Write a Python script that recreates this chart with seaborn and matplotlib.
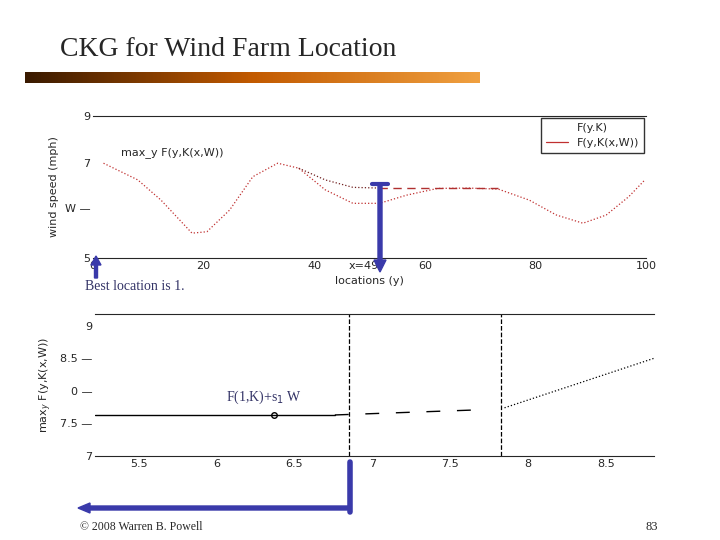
import matplotlib.pyplot as plt
import matplotlib.patches as mpatches
from matplotlib.lines import Line2D
import numpy as np
import seaborn as sns

sns.set_style("white")
plt.rcParams['font.family'] = ['DejaVu Sans']

# top panel: wind speed along locations
loc = [1.9, 8.1, 12.3, 17.9, 20.6, 24.7, 28.9, 33.4, 37.2, 42.0, 47.0, 51.8, 56.7, 62.3, 67.9, 73.3, 78.9, 83.8, 88.6, 92.8, 96.9, 99.8]
f_kw = [7.67, 7.20, 6.63, 5.70, 5.74, 6.35, 7.29, 7.67, 7.53, 6.92, 6.54, 6.54, 6.77, 6.96, 6.97, 6.94, 6.63, 6.21, 5.98, 6.21, 6.73, 7.20]
up_loc = [37.2, 42.0, 47.0, 51.8]
up_val = [7.53, 7.20, 6.99, 6.97]
flat_loc = [51.8, 73.3]
flat_val = [6.97, 6.97]

# bottom panel: max_y F(y,K(x,W)) vs W
solid_x = [5.22, 6.76]
solid_y = [7.63, 7.63]
dash_x = [6.76, 7.70]
dash_y = [7.63, 7.71]
dot_x = [7.85, 8.81]
dot_y = [7.74, 8.5]
vlines = [6.85, 7.83]
opt_pt = (6.37, 7.63)

W, H = 720, 540
fig = plt.figure(figsize=(7.2, 5.4), dpi=100)

def box(l, t, r, b):
    return [l / W, 1 - b / H, (r - l) / W, (b - t) / H]

# slide title and bar
fig.text(60 / W, 1 - 50 / H, "CKG for Wind Farm Location", family="Liberation Serif", fontsize=20, va="center")
bar = fig.add_axes(box(25, 72, 480, 83))
bar.imshow(np.linspace(0, 1, 200)[None, :], aspect="auto",
           cmap=sns.blend_palette(["#3a1a00", "#c25a00", "#f0a040"], as_cmap=True))
bar.set_axis_off()

ax1 = fig.add_axes(box(93, 116, 646, 258))
sns.lineplot(x=loc, y=f_kw, ax=ax1, color="#c03030", lw=0.9, linestyle=":")
sns.lineplot(x=up_loc, y=up_val, ax=ax1, color="#702020", lw=0.9, linestyle=":")
ax1.plot(flat_loc, flat_val, color="#b03030", lw=1.0, dashes=(6, 4))
handles = [Line2D([], [], color="white"), Line2D([], [], color="#c03030", lw=0.9)]
ax1.legend(handles, ["F(y.K)", "F(y,K(x,W))"], loc="upper right", fontsize=8, frameon=True,
           fancybox=False, edgecolor="black", borderaxespad=0.2)
ax1.set_xlim(0, 100)
ax1.set_ylim(5, 9)
ax1.set_xticks([0, 20, 40, 49, 60, 80, 100])
ax1.set_xticklabels(["0", "20", "40", "x=49", "60", "80", "100"], fontsize=8)
ax1.set_yticks([5, 6.41, 7.67, 9])
ax1.set_yticklabels(["5", "W —", "7", "9"], fontsize=8)
ax1.tick_params(length=0, pad=2)
ax1.set_xlabel("locations (y)", fontsize=8)
ax1.set_ylabel("wind speed (mph)", fontsize=8)
for s in ["left", "right"]:
    ax1.spines[s].set_visible(False)
ax1.text(5, 7.9, "max_y F(y,K(x,W))", fontsize=8)

ax2 = fig.add_axes(box(95, 314, 654, 456))
sns.lineplot(x=solid_x, y=solid_y, ax=ax2, color="black", lw=1)
ax2.plot(dash_x, dash_y, color="black", lw=1, dashes=(10, 12))
sns.lineplot(x=dot_x, y=dot_y, ax=ax2, color="black", lw=0.9, linestyle=":")
for v in vlines:
    ax2.axvline(v, color="black", ls="--", lw=0.9)
ax2.plot(*opt_pt, marker="o", mfc="none", mec="black", ms=4)
ax2.set_xlim(5.22, 8.81)
ax2.set_ylim(7, 9.18)
ax2.set_xticks([5.5, 6, 6.5, 7, 7.5, 8, 8.5])
ax2.set_xticklabels(["5.5", "6", "6.5", "7", "7.5", "8", "8.5"], fontsize=8)
ax2.set_yticks([7, 7.5, 8, 8.5, 9])
ax2.set_yticklabels(["7", "7.5 —", "0 —", "8.5 —", "9"], fontsize=8)
ax2.tick_params(length=0, pad=2)
ax2.set_ylabel("max$_y$ F(y,K(x,W))", fontsize=8)
for s in ["left", "right"]:
    ax2.spines[s].set_visible(False)
ax2.text(6.06, 7.85, "F(1,K)+s$_1$ W", family="Liberation Serif", fontsize=10, color="#333366")

# blue arrows and notes in slide pixels
ov = fig.add_axes([0, 0, 1, 1])
ov.set_xlim(0, W)
ov.set_ylim(H, 0)
ov.set_axis_off()
ov.patch.set_alpha(0)
blue = "#3a3aaa"
ov.add_patch(mpatches.FancyArrow(380, 184, 0, 88, width=4, head_width=12, head_length=12,
                                 length_includes_head=True, color=blue))
ov.plot([372, 388], [184, 184], color=blue, lw=3)
ov.add_patch(mpatches.FancyArrow(96, 278, 0, -22, width=3, head_width=10, head_length=9,
                                 length_includes_head=True, color=blue))
ov.add_patch(mpatches.FancyArrow(350, 508, -272, 0, width=4, head_width=10, head_length=12,
                                 length_includes_head=True, color=blue))
ov.plot([350, 350], [462, 512], color=blue, lw=4)
ov.text(85, 286, "Best location is 1.", family="Liberation Serif", fontsize=10, color="#333366", va="center")
ov.text(80, 527, "© 2008 Warren B. Powell", family="Liberation Serif", fontsize=8.5, va="center")
ov.text(658, 527, "83", family="Liberation Serif", fontsize=9, va="center", ha="right")

fig.savefig("out.png", dpi=100)
